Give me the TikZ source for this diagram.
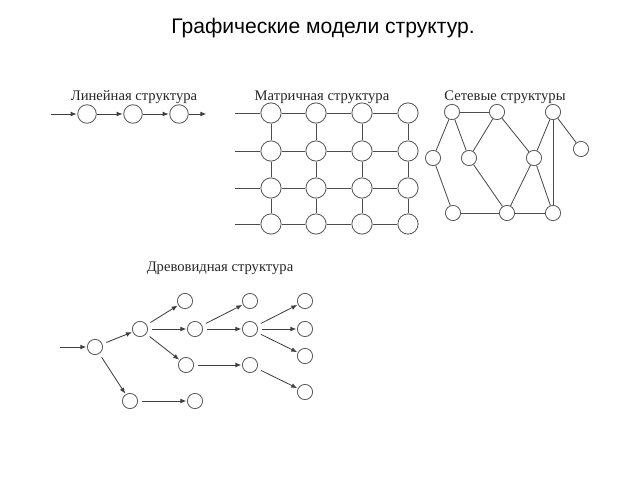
\documentclass[tikz,border=0pt]{standalone}
\usepackage{fontspec}
\setmainfont{Liberation Serif}
\newfontfamily\titlefont{Liberation Sans}
\usetikzlibrary{arrows.meta}

\tikzset{
	uzel/.style={circle, draw=black!65, line width=0.6pt, minimum size=13.2pt, inner sep=0pt},
	muzel/.style={circle, draw=black!65, line width=0.6pt, minimum size=14.4pt, inner sep=0pt},
	suzel/.style={circle, draw=black!65, line width=0.6pt, minimum size=10.8pt, inner sep=0pt},
	svyaz/.style={draw=black!70, line width=0.6pt},
	strelka/.style={draw=black!75, line width=0.6pt, -{Latex[length=4.2pt,width=3.4pt]}, shorten <=3pt, shorten >=0.5pt},
	zagolovok/.style={font=\fontsize{10.4}{12}\selectfont, text=black!85}
}

\begin{document}
\begin{tikzpicture}[x=0.025cm, y=-0.025cm]
	\useasboundingbox (0,0) rectangle (640,480);
	\node[font=\titlefont\fontsize{15}{17}\selectfont] (title) at (323,28) {Графические модели структур.};

	% линейная
	\node[zagolovok] (lt) at (134,97) {Линейная структура};
	\coordinate (l0) at (51,114);
	\node[uzel] (l1) at (87,114) {};
	\node[uzel] (l2) at (133,114) {};
	\node[uzel] (l3) at (179,114) {};
	\coordinate (l4) at (207,114);
	\draw[strelka, shorten <=0pt] (l0) -- (l1);
	\draw[strelka, shorten <=0pt] (l1) -- (l2);
	\draw[strelka, shorten <=0pt] (l2) -- (l3);
	\draw[strelka, shorten <=0pt] (l3) -- (l4);

	% матричная
	\node[zagolovok] (mt) at (322,97) {Матричная структура};
	\node[muzel] (m11) at (271,113) {};
	\node[muzel] (m12) at (316,113) {};
	\node[muzel] (m13) at (362,113) {};
	\node[muzel] (m14) at (408,113) {};
	\node[muzel] (m21) at (271,151) {};
	\node[muzel] (m22) at (316,151) {};
	\node[muzel] (m23) at (362,151) {};
	\node[muzel] (m24) at (408,151) {};
	\node[muzel] (m31) at (271,188) {};
	\node[muzel] (m32) at (316,188) {};
	\node[muzel] (m33) at (362,188) {};
	\node[muzel] (m34) at (408,188) {};
	\node[muzel] (m41) at (271,224) {};
	\node[muzel] (m42) at (316,224) {};
	\node[muzel] (m43) at (362,224) {};
	\node[muzel] (m44) at (408,224) {};
	\coordinate (m10) at (235,113);
	\coordinate (m20) at (235,151);
	\coordinate (m30) at (235,188);
	\coordinate (m40) at (235,224);
	\draw[svyaz] (m10) -- (m11) -- (m12) -- (m13) -- (m14);
	\draw[svyaz] (m20) -- (m21) -- (m22) -- (m23) -- (m24);
	\draw[svyaz] (m30) -- (m31) -- (m32) -- (m33) -- (m34);
	\draw[svyaz] (m40) -- (m41) -- (m42) -- (m43) -- (m44);
	\draw[svyaz] (m11) -- (m21) -- (m31) -- (m41);
	\draw[svyaz] (m12) -- (m22) -- (m32) -- (m42);
	\draw[svyaz] (m13) -- (m23) -- (m33) -- (m43);
	\draw[svyaz] (m14) -- (m24) -- (m34) -- (m44);

	% сетевые
	\node[zagolovok] (st) at (505,97) {Сетевые структуры};
	\node[suzel] (s1) at (452,112) {};
	\node[suzel] (s2) at (497,112) {};
	\node[suzel] (s3) at (553,112) {};
	\node[suzel] (s4) at (433,158) {};
	\node[suzel] (s5) at (469,158) {};
	\node[suzel] (s6) at (534,158) {};
	\node[suzel] (s7) at (581,149) {};
	\node[suzel] (s8) at (453,213) {};
	\node[suzel] (s9) at (507,213) {};
	\node[suzel] (s10) at (553,213) {};
	\draw[svyaz] (s1) -- (s2);
	\draw[svyaz] (s1) -- (s4);
	\draw[svyaz] (s1) -- (s5);
	\draw[svyaz] (s2) -- (s5);
	\draw[svyaz] (s2) -- (s6);
	\draw[svyaz] (s3) -- (s7);
	\draw[svyaz] (s3) -- (s6);
	\draw[svyaz] (s3) -- (s10);
	\draw[svyaz] (s4) -- (s8);
	\draw[svyaz] (s5) -- (s9);
	\draw[svyaz] (s6) -- (s9);
	\draw[svyaz] (s6) -- (s10);
	\draw[svyaz] (s8) -- (s9);
	\draw[svyaz] (s9) -- (s10);

	% древовидная
	\node[zagolovok] (dt) at (220,268) {Древовидная структура};
	\coordinate (d0) at (60,347);
	\node[suzel] (d1) at (95,347) {};
	\node[suzel] (d2) at (140,329) {};
	\node[suzel] (d3) at (130,401) {};
	\node[suzel] (d4) at (195,401) {};
	\node[suzel] (d5) at (185,301) {};
	\node[suzel] (d6) at (195,329) {};
	\node[suzel] (d7) at (186,365) {};
	\node[suzel] (d8) at (250,301) {};
	\node[suzel] (d9) at (250,329) {};
	\node[suzel] (d10) at (250,365) {};
	\node[suzel] (d11) at (305,301) {};
	\node[suzel] (d12) at (305,329) {};
	\node[suzel] (d13) at (305,356) {};
	\node[suzel] (d14) at (305,392) {};
	\draw[strelka, shorten <=0pt] (d0) -- (d1);
	\draw[strelka] (d1) -- (d2);
	\draw[strelka] (d1) -- (d3);
	\draw[strelka] (d3) -- (d4);
	\draw[strelka] (d2) -- (d5);
	\draw[strelka] (d2) -- (d6);
	\draw[strelka] (d2) -- (d7);
	\draw[strelka] (d6) -- (d8);
	\draw[strelka] (d6) -- (d9);
	\draw[strelka] (d7) -- (d10);
	\draw[strelka] (d9) -- (d11);
	\draw[strelka] (d9) -- (d12);
	\draw[strelka] (d9) -- (d13);
	\draw[strelka] (d10) -- (d14);
\end{tikzpicture}
\end{document}
